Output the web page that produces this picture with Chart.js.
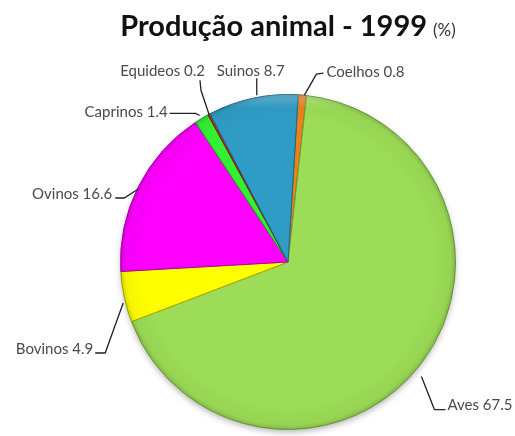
<!DOCTYPE html>
<html><head><meta charset="utf-8">
<script src="https://cdn.jsdelivr.net/npm/chart.js@4/dist/chart.umd.min.js"></script>
<style>html,body{margin:0;padding:0;background:#fff}#wrap{width:515px;height:436px;position:relative}</style>
</head><body><div id="wrap"><canvas id="c" width="515" height="436"></canvas></div>
<script>
// ---- data ----
const categories = ['Coelhos', 'Aves', 'Bovinos', 'Ovinos', 'Caprinos', 'Equideos', 'Suinos'];
const values = [0.8, 67.5, 4.9, 16.6, 1.4, 0.2, 8.7];
const titleMain = 'Produção animal - 1999';
const titleUnit = '(%)';

// ---- styles ----
const colors = ['#E8821C', '#9CDC56', '#FFFF00', '#FF00FF', '#33F033', '#C8281E', '#2F9CC6'];
const borders = ['#8a4a10', '#6f9e3c', '#a8a800', '#a800a8', '#1f9a1f', '#801010', '#1f6a88'];
// leader-line layout relative to each slice's outer edge midpoint
const labelLayout = [
  {pts: [[2, 0], [14, -21], [21, -22]], align: 'left', tx: 3, ty: -1},
  {pts: [[1, 12], [14, 45], [25, 45]], align: 'left', tx: 2, ty: -4},
  {pts: [[-1, 6], [-19, 56], [-29, 56]], align: 'right', tx: -2, ty: -4},
  {pts: [[0, 2], [-14, 11], [-23, 11]], align: 'right', tx: -3, ty: -4},
  {pts: [[-2, -3], [-6, -5], [-32, -5]], align: 'right', tx: -2, ty: -1},
  {pts: [[0, 0], [-8, -24], [-9, -34]], align: 'right', tx: 5, ty: -9},
  {pts: [[4, -3], [4, -20]], align: 'center', tx: -6, ty: -7}
];

const shadowPlugin = {
  id: 'shadowPlugin',
  beforeDatasetsDraw(chart) {
    const arc = chart.getDatasetMeta(0).data[0];
    if (!arc) return;
    const {x, y, outerRadius} = arc.getProps(['x', 'y', 'outerRadius'], true);
    const ctx = chart.ctx;
    ctx.save();
    ctx.shadowColor = 'rgba(0,0,0,0.35)';
    ctx.shadowBlur = 7;
    ctx.shadowOffsetY = 3;
    ctx.beginPath();
    ctx.arc(x, y, outerRadius - 1, 0, Math.PI * 2);
    ctx.fillStyle = '#fff';
    ctx.fill();
    ctx.restore();
  },
  afterDatasetsDraw(chart) {
    const arc = chart.getDatasetMeta(0).data[0];
    if (!arc) return;
    const {x, y, outerRadius} = arc.getProps(['x', 'y', 'outerRadius'], true);
    const ctx = chart.ctx;
    ctx.save();
    const g = ctx.createRadialGradient(x, y, outerRadius * 0.86, x, y, outerRadius);
    g.addColorStop(0, 'rgba(0,0,0,0)');
    g.addColorStop(0.8, 'rgba(0,0,0,0.04)');
    g.addColorStop(1, 'rgba(0,0,0,0.16)');
    ctx.beginPath();
    ctx.arc(x, y, outerRadius, 0, Math.PI * 2);
    ctx.fillStyle = g;
    ctx.fill();
    const h = ctx.createLinearGradient(0, y - outerRadius, 0, y - outerRadius + 14);
    h.addColorStop(0, 'rgba(255,255,255,0.25)');
    h.addColorStop(1, 'rgba(255,255,255,0)');
    ctx.fillStyle = h;
    ctx.fill();
    ctx.restore();
  }
};

const labelPlugin = {
  id: 'labelPlugin',
  afterDraw(chart) {
    const ctx = chart.ctx;
    const meta = chart.getDatasetMeta(0);
    ctx.save();
    // title
    const ca = chart.chartArea;
    const cx = (ca.left + ca.right) / 2;
    ctx.fillStyle = '#111';
    ctx.textBaseline = 'alphabetic';
    const f1 = 'bold 29px Lato';
    const f2 = '17px Lato';
    ctx.font = f1; const w1 = ctx.measureText(titleMain).width;
    ctx.font = f2; const w2 = ctx.measureText(titleUnit).width;
    const gap = 6;
    const startX = cx - (w1 + gap + w2) / 2;
    ctx.font = f1; ctx.textAlign = 'left';
    ctx.fillText(titleMain, startX, 36);
    ctx.font = f2; ctx.fillStyle = '#333';
    ctx.fillText(titleUnit, startX + w1 + gap, 36);

    // slice labels with leader lines
    ctx.font = '15px Lato';
    ctx.textBaseline = 'middle';
    meta.data.forEach((arc, i) => {
      const p = arc.getProps(['x', 'y', 'startAngle', 'endAngle', 'outerRadius'], true);
      const mid = (p.startAngle + p.endAngle) / 2;
      const ex = p.x + Math.cos(mid) * p.outerRadius;
      const ey = p.y + Math.sin(mid) * p.outerRadius;
      const L = labelLayout[i];
      ctx.strokeStyle = '#222';
      ctx.lineWidth = 1.3;
      ctx.beginPath();
      L.pts.forEach((q, k) => {
        const px = ex + q[0], py = ey + q[1];
        if (k === 0) ctx.moveTo(px, py); else ctx.lineTo(px, py);
      });
      ctx.stroke();
      const last = L.pts[L.pts.length - 1];
      ctx.fillStyle = '#4a4a4a';
      ctx.textAlign = L.align;
      ctx.fillText(categories[i] + ' ' + values[i].toFixed(1), ex + last[0] + L.tx, ey + last[1] + L.ty);
    });
    ctx.restore();
  }
};

new Chart(document.getElementById('c'), {
  type: 'pie',
  data: {
    labels: categories,
    datasets: [{
      data: values,
      backgroundColor: colors,
      borderColor: borders,
      borderWidth: 1,
      hoverOffset: 0
    }]
  },
  options: {
    responsive: false,
    animation: false,
    devicePixelRatio: 1,
    rotation: 3.5,
    layout: {padding: {left: 120, right: 59, top: 94, bottom: 6}},
    plugins: {legend: {display: false}, title: {display: false}, tooltip: {enabled: false}}
  },
  plugins: [shadowPlugin, labelPlugin]
});
</script>
</body></html>
